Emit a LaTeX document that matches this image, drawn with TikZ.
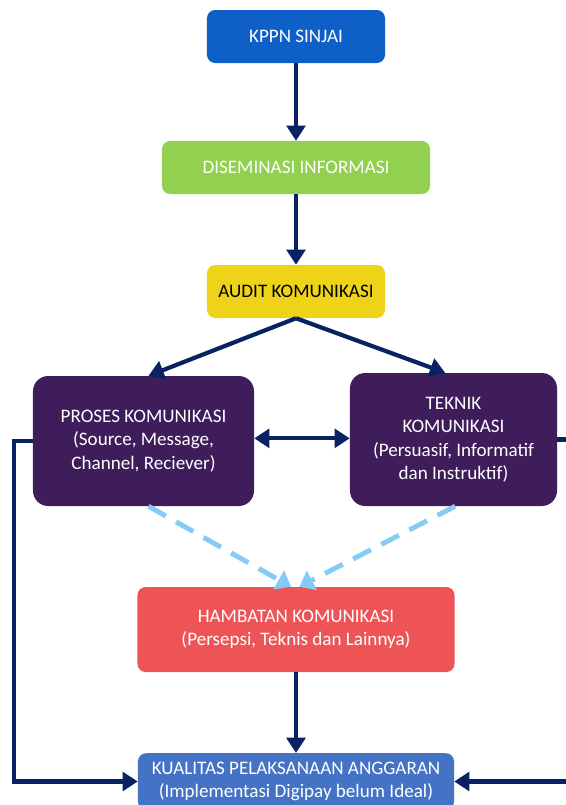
\documentclass[tikz,border=0pt]{standalone}
\usepackage{fontspec}
\setmainfont{Carlito}
\usepackage{xcolor}
\usetikzlibrary{arrows.meta,positioning}

\definecolor{navy}{HTML}{082263}
\definecolor{kppnblue}{HTML}{0F5FC8}
\definecolor{disgreen}{HTML}{92D050}
\definecolor{audityellow}{HTML}{EFD318}
\definecolor{komviolet}{HTML}{3F1D5B}
\definecolor{hamred}{HTML}{EE5456}
\definecolor{kualblue}{HTML}{4472C4}
\definecolor{dashblue}{HTML}{86CBF6}

\begin{document}
\begin{tikzpicture}[x=0.03cm,y=-0.03cm,
    box/.style={rounded corners=7pt,text=white,align=center,inner sep=0pt,
      font=\fontsize{16.3}{20}\selectfont},
    bigbox/.style={box,rounded corners=13pt},
    flow/.style={line width=3.6pt,draw=navy,-{Triangle[length=13pt,width=16pt]}},
    twoway/.style={line width=3.6pt,draw=navy,{Triangle[length=13pt,width=16pt]}-{Triangle[length=13pt,width=16pt]}},
    hint/.style={line width=4.2pt,draw=dashblue,dash pattern=on 17pt off 10pt,
      -{Triangle[length=12pt,width=18pt,fill=dashblue]}}]
  \useasboundingbox (0,0) rectangle (566,805);
  % boxes
  \node[box,fill=kppnblue,minimum width=5.34cm,minimum height=1.59cm] (kppn) at (296,36.5) {KPPN SINJAI};
  \node[box,fill=disgreen,minimum width=8.04cm,minimum height=1.59cm] (dis) at (296,167.5) {DISEMINASI INFORMASI};
  \node[box,fill=audityellow,text=black,minimum width=5.34cm,minimum height=1.59cm] (audit) at (296,291.5) {AUDIT KOMUNIKASI};
  \node[bigbox,fill=komviolet,minimum width=6.63cm,minimum height=3.9cm] (proses) at (143.5,441)
    {PROSES KOMUNIKASI\\(Source, Message,\\Channel, Reciever)};
  \node[bigbox,fill=komviolet,minimum width=6.21cm,minimum height=3.99cm] (teknik) at (453.5,439.5)
    {TEKNIK\\KOMUNIKASI\\(Persuasif, Informatif\\dan Instruktif)};
  \node[box,fill=hamred,minimum width=9.51cm,minimum height=2.55cm] (hambatan) at (296,629.5)
    {HAMBATAN KOMUNIKASI\\(Persepsi, Teknis dan Lainnya)};
  \node[box,fill=kualblue,minimum width=9.48cm,minimum height=1.7cm] (kualitas) at (296,781.5)
    {KUALITAS PELAKSANAAN ANGGARAN\\(Implementasi Digipay belum Ideal)};
  % arrows
  \draw[flow] (kppn) -- (dis);
  \draw[flow] (dis) -- (audit);
  \draw[flow] (audit.south) -- ([xshift=0.15cm]proses.north);
  \draw[flow] (audit.south) -- ([xshift=-0.25cm]teknik.north);
  \draw[twoway] ([yshift=0.08cm]proses.east) -- ([yshift=0.08cm]proses.east -| teknik.west);
  \draw[hint] ([xshift=0.15cm]proses.south) -- ([xshift=-0.15cm]hambatan.north);
  \draw[hint] ([xshift=0.05cm]teknik.south) -- ([xshift=0.1cm]hambatan.north);
  \draw[flow] (hambatan) -- (kualitas);
  \draw[flow] (proses.west) -- ++(-19,0) |- (kualitas.west);
  \draw[flow] (teknik.east) -- ++(16,0) |- (kualitas.east);
\end{tikzpicture}
\end{document}
